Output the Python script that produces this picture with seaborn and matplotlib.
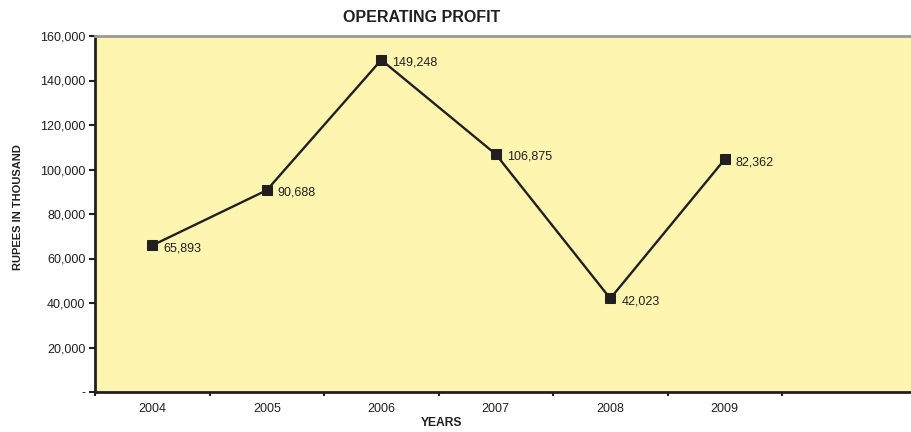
import matplotlib
matplotlib.use("Agg")
import matplotlib.pyplot as plt
import seaborn as sns
import pandas as pd
from matplotlib.ticker import FuncFormatter, FixedLocator

years = ["2004", "2005", "2006", "2007", "2008", "2009"]
values = [65893, 90688, 149248, 106875, 42023, 104600]
value_labels = ["65,893", "90,688", "149,248", "106,875", "42,023", "82,362"]

sns.set_theme(style="white")
fam = ["Liberation Sans", "DejaVu Sans"]
plt.rcParams["font.family"] = fam

df = pd.DataFrame({"pos": range(len(years)), "value": values})

fig = plt.figure(figsize=(9.12, 4.32), dpi=100)
ax = fig.add_axes([95 / 912, 1 - 392 / 432, (912 - 95) / 912, (392 - 36) / 432])
ax.set_facecolor("#FEF5B1")

sns.lineplot(data=df, x="pos", y="value", ax=ax, color="#231F20", linewidth=1.7,
             marker="s", markersize=6.5, markeredgecolor="#231F20",
             markerfacecolor="#231F20")

for i, (v, lab) in enumerate(zip(values, value_labels)):
    ax.annotate(lab, (i, v), xytext=(8, -2), textcoords="offset points",
                ha="left", va="center", fontsize=9, color="#231F20", family=fam)

ax.set_xlim(-0.5, 6.635)
ax.set_ylim(0, 160000)
ax.set_xticks(range(len(years)))
ax.set_xticklabels(years)
ax.xaxis.set_minor_locator(FixedLocator([-0.5, 0.5, 1.5, 2.5, 3.5, 4.5, 5.5]))
ax.tick_params(axis="x", which="major", length=0, pad=8, labelsize=9, colors="#231F20")
ax.tick_params(axis="x", which="minor", length=3, width=1.5, direction="out",
               color="#231F20", bottom=True)
ax.set_yticks(range(0, 160001, 20000))
ax.yaxis.set_major_formatter(FuncFormatter(lambda v, p: "-" if v == 0 else f"{int(v):,}"))
ax.tick_params(axis="y", length=4, width=1.5, direction="out", color="#231F20",
               labelsize=9, labelcolor="#231F20", pad=3, left=True)
ax.grid(False)

for s in ["left", "bottom"]:
    ax.spines[s].set_color("#231F20")
    ax.spines[s].set_linewidth(2)
ax.spines["top"].set_color("#999999")
ax.spines["top"].set_linewidth(2)
ax.spines["right"].set_visible(False)

ax.set_xlabel("")
ax.set_ylabel("")
fig.text(422 / 912, 1 - 18 / 432, "OPERATING PROFIT", ha="center", va="center",
         fontsize=11.5, fontweight="bold", family=fam, color="#231F20")
fig.text(442 / 912, 1 - 423 / 432, "YEARS", ha="center", va="center",
         fontsize=8.7, fontweight="bold", family=fam, color="#231F20")
fig.text(18 / 912, 1 - 207 / 432, "RUPEES IN THOUSAND", ha="center", va="center",
         rotation=90, fontsize=8, fontweight="bold", family=fam, color="#231F20")

fig.savefig("out.png", dpi=100, facecolor="white")
